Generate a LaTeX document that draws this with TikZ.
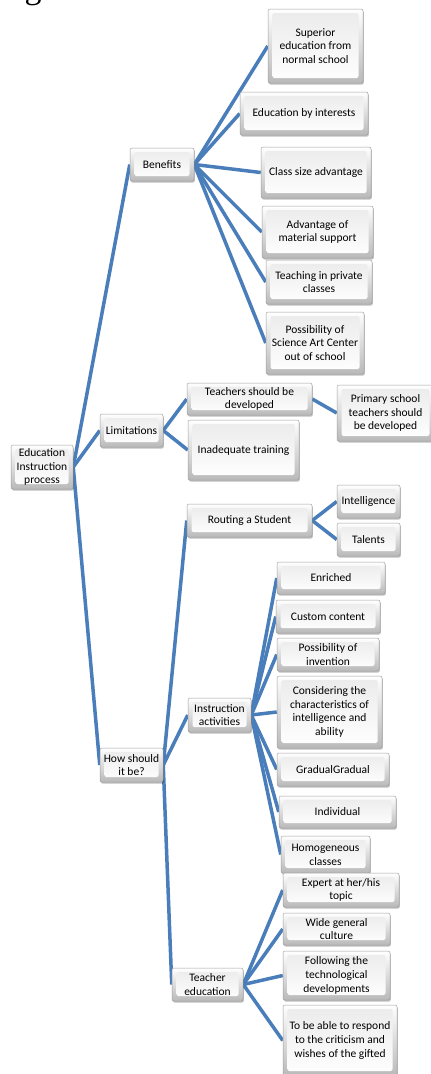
\documentclass[tikz,border=0pt]{standalone}
\usepackage{fontspec}
\setmainfont{Carlito}
\newfontfamily\serifcap{Liberation Serif}
\usepackage{tikz}
\usetikzlibrary{positioning,calc,shadows,backgrounds}
\definecolor{linkblue}{RGB}{74,126,187}

\begin{document}
\begin{tikzpicture}[x=1pt, y=-1pt,
    every node/.style={font=\fontsize{11.5}{13.8}\selectfont},
    box/.style={draw=gray!75, line width=0.5pt, rounded corners=2pt, align=center, inner sep=1pt,
        top color=white, bottom color=gray!55,
        drop shadow={shadow xshift=0.8pt, shadow yshift=-1.6pt, fill=black, opacity=0.25},
        path picture={\shade[top color=gray!16, bottom color=white]
            ($(path picture bounding box.north west)+(4.5pt,-4pt)$) rectangle
            ($(path picture bounding box.south east)+(-4.5pt,5pt)$);}},
    link/.style={draw=linkblue, line width=3.5pt}]
    \useasboundingbox (0,0) rectangle (431,1074);

    % Cut-off caption letter at the top
    \node[font=\serifcap\fontsize{34}{34}\selectfont, anchor=base, inner sep=0] (figcap) at (33,-2) {g};

    % Root
    \node[box, minimum width=62, minimum height=44] (root) at (42,467) {Education\\Instruction\\process};

    % Second level
    \node[box, minimum width=64, minimum height=33] (ben) at (162,164.5) {Benefits};
    \node[box, minimum width=63, minimum height=33] (lim) at (131.5,430.5) {Limitations};
    \node[box, minimum width=63, minimum height=34] (how) at (131.5,765) {How should\\it be?};

    % Benefits
    \node[box, minimum width=95, minimum height=74] (sup) at (315.5,46) {Superior\\education from\\normal school};
    \node[box, minimum width=128, minimum height=43] (edu) at (304,113.5) {Education by interests};
    \node[box, minimum width=110, minimum height=51] (cls) at (316,172.5) {Class size advantage};
    \node[box, minimum width=111, minimum height=52] (adv) at (317.5,232) {Advantage of\\material support};
    \node[box, minimum width=106, minimum height=44] (tch) at (319,282) {Teaching in private\\classes};
    \node[box, minimum width=98, minimum height=62] (pos) at (315,343) {Possibility of\\Science Art Center\\out of school};

    % Limitations
    \node[box, minimum width=125, minimum height=32] (tsd) at (249.5,399) {Teachers should be\\developed};
    \node[box, minimum width=111, minimum height=60] (ina) at (243.5,450) {Inadequate training};
    \node[box, minimum width=97, minimum height=56] (prim) at (385.5,413) {Primary school\\teachers should\\be developed};

    % How should it be?
    \node[box, minimum width=125, minimum height=33] (rout) at (249.5,520.5) {Routing a Student};
    \node[box, minimum width=63, minimum height=34] (ins) at (219.5,715) {Instruction\\activities};
    \node[box, minimum width=71, minimum height=33] (ted) at (207.5,984.5) {Teacher\\education};

    % Routing a Student
    \node[box, minimum width=63, minimum height=33] (intl) at (368.5,501.5) {Intelligence};
    \node[box, minimum width=63, minimum height=33] (tal) at (368.5,539.5) {Talents};

    % Instruction activities
    \node[box, minimum width=108, minimum height=32] (enr) at (331,578) {Enriched};
    \node[box, minimum width=104, minimum height=33] (cus) at (328,616.5) {Custom content};
    \node[box, minimum width=102, minimum height=33] (inv) at (328,654.5) {Possibility of\\invention};
    \node[box, minimum width=105, minimum height=72] (con) at (329.5,712) {Considering the\\characteristics of\\intelligence and\\ability};
    \node[box, minimum width=112, minimum height=33] (grd) at (333,769.5) {GradualGradual};
    \node[box, minimum width=117, minimum height=32] (ind) at (337.5,812) {Individual};
    \node[box, minimum width=89, minimum height=37] (hom) at (325.5,854.5) {Homogeneous\\classes};

    % Teacher education
    \node[box, minimum width=116, minimum height=34] (exp) at (341,890) {Expert at her/his\\topic};
    \node[box, minimum width=107, minimum height=32] (wid) at (336.5,929) {Wide general\\culture};
    \node[box, minimum width=107, minimum height=49] (fol) at (336.5,975.5) {Following the\\technological\\developments};
    \node[box, minimum width=114, minimum height=71] (res) at (340,1040.5) {To be able to respond\\to the criticism and\\wishes of the gifted};

    % Connectors behind the boxes
    \begin{scope}[on background layer]
    \draw[link] (root.east) -- (ben.west);
    \draw[link] (root.east) -- (lim.west);
    \draw[link] (root.east) -- (how.west);

    \draw[link] (ben.east) -- (sup.west);
    \draw[link] (ben.east) -- (edu.west);
    \draw[link] (ben.east) -- (cls.west);
    \draw[link] (ben.east) -- (adv.west);
    \draw[link] (ben.east) -- (tch.west);
    \draw[link] (ben.east) -- (pos.west);

    \draw[link] (lim.east) -- (tsd.west);
    \draw[link] (lim.east) -- (ina.west);
    \draw[link] (tsd.east) -- (prim.west);

    \draw[link] (how.east) -- (rout.west);
    \draw[link] (how.east) -- (ins.west);
    \draw[link] (how.east) -- (ted.west);

    \draw[link] (rout.east) -- (intl.west);
    \draw[link] (rout.east) -- (tal.west);

    \draw[link] (ins.east) -- (enr.west);
    \draw[link] (ins.east) -- (cus.west);
    \draw[link] (ins.east) -- (inv.west);
    \draw[link] (ins.east) -- (con.west);
    \draw[link] (ins.east) -- (grd.west);
    \draw[link] (ins.east) -- (ind.west);
    \draw[link] (ins.east) -- (hom.west);

    \draw[link] (ted.east) -- (exp.west);
    \draw[link] (ted.east) -- (wid.west);
    \draw[link] (ted.east) -- (fol.west);
    \draw[link] (ted.east) -- (res.west);
    \end{scope}
\end{tikzpicture}
\end{document}
